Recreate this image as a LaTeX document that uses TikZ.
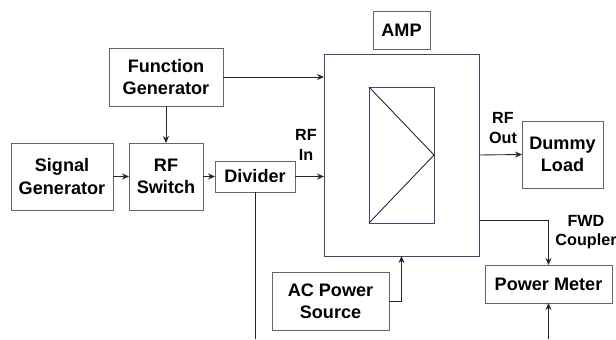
\documentclass[tikz,border=0pt]{standalone}
\usepackage{fontspec}
\setmainfont{Liberation Sans}
\usetikzlibrary{arrows.meta,positioning}
\definecolor{ampblue}{HTML}{3A4A68}

\begin{document}
\begin{tikzpicture}[
  blk/.style={rectangle,draw=black!60,line width=0.5pt,inner sep=0pt,outer sep=0pt,align=center,
              font=\fontsize{10.3}{12.6}\selectfont\bfseries},
  ampbox/.style={rectangle,draw=ampblue,line width=0.55pt,inner sep=0pt,outer sep=0pt},
  lbl/.style={inner sep=0pt,align=center,font=\fontsize{9.2}{11}\selectfont\bfseries},
  sig/.style={-{Stealth[length=1.4mm,width=1.2mm]},line width=0.5pt,black!85}]
\useasboundingbox (0,0) rectangle (12.32,6.78);

\node[blk,minimum width=2.28cm,minimum height=1.16cm] (fgen) at (3.32,5.24) {Function\\ Generator};
\node[blk,minimum width=2.04cm,minimum height=1.34cm] (sgen) at (1.24,3.25) {Signal\\ Generator};
\node[blk,minimum width=1.48cm,minimum height=1.34cm] (rfsw) at (3.32,3.25) {RF\\ Switch};
\node[blk,minimum width=1.60cm,minimum height=0.62cm] (divd) at (5.10,3.25) {Divider};

\node[blk,minimum width=1.14cm,minimum height=0.76cm] (amptag) at (8.03,6.18) {AMP};
\node[ampbox,minimum width=3.10cm,minimum height=4.04cm] (amp) at (8.03,3.68) {};
\node[ampbox,minimum width=1.30cm,minimum height=2.72cm] (tri) at (8.03,3.68) {};

\node[blk,minimum width=1.62cm,minimum height=1.34cm] (load) at (11.25,3.69) {Dummy\\ Load};
\node[blk,minimum width=2.54cm,minimum height=0.76cm] (pmeter) at (10.97,1.10) {Power Meter};
\node[blk,minimum width=2.34cm,minimum height=1.16cm] (acsrc) at (6.61,0.76) {AC Power\\ Source};

\node[lbl] (rfin) at (6.12,3.88) {RF\\ In};
\node[lbl] (rfout) at (10.06,4.22) {RF\\ Out};
\node[lbl] (fwd) at (11.72,2.14) {FWD\\ Coupler};

\coordinate (divend) at (5.10,0);
\coordinate (pmin) at (10.97,0);
\coordinate (fwdtap) at (9.58,2.38);

\draw[black!85,line width=0.5pt] (tri.north west) -- (tri.east) -- (tri.south west);

\draw[sig] (fgen.east) -- (fgen.east -| amp.west);
\draw[sig] (fgen.south) -- (rfsw.north);
\draw[sig] (sgen.east) -- (rfsw.west);
\draw[sig] (rfsw.east) -- (divd.west);
\draw[sig] (divd.east) -- (divd.east -| amp.west);
\draw[line width=0.5pt,black!85] (divd.south) -- (divend);
\draw[sig] (amp.east) -- (load.west);
\draw[sig] (fwdtap) -| (pmeter.north);
\draw[sig] (acsrc.east) -| (amp.south);
\draw[sig] (pmin) -- (pmeter.south);
\end{tikzpicture}
\end{document}
